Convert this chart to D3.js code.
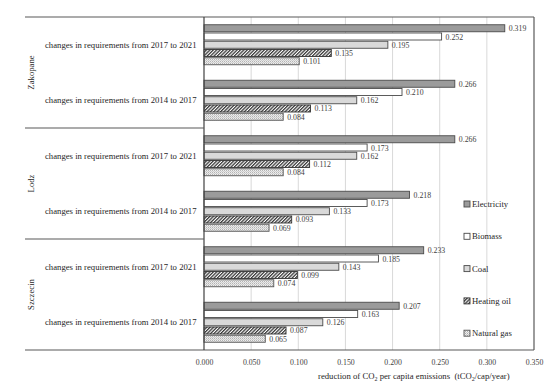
<!DOCTYPE html>
<html><head><meta charset="utf-8">
<script src="https://cdn.jsdelivr.net/npm/d3@7"></script>
<style>
html,body{margin:0;padding:0;background:#fff;}
svg text{font-family:"Liberation Serif","Times New Roman",serif;}
</style></head>
<body><svg id="c" width="550" height="389"></svg>
<script>
const cities = ["Zakopane", "Lodz", "Szczecin"];
const periods = ["changes in requirements from 2017 to 2021", "changes in requirements from 2014 to 2017"];
const fuels = ["Electricity", "Biomass", "Coal", "Heating oil", "Natural gas"];
// values[city][period][fuel]
const zakopane = [[0.319, 0.252, 0.195, 0.135, 0.101], [0.266, 0.210, 0.162, 0.113, 0.084]];
const lodz     = [[0.266, 0.173, 0.162, 0.112, 0.084], [0.218, 0.173, 0.133, 0.093, 0.069]];
const szczecin = [[0.233, 0.185, 0.143, 0.099, 0.074], [0.207, 0.163, 0.126, 0.087, 0.065]];
const cityValues = [zakopane, lodz, szczecin];
const xTicks = [0, 0.05, 0.10, 0.15, 0.20, 0.25, 0.30, 0.35];

const svg = d3.select("#c");
const pLeft = 204, pRight = 534, pTop = 17, pBottom = 350, outerLeft = 25;

const defs = svg.append("defs");
const hatch = defs.append("pattern").attr("id","hatch").attr("patternUnits","userSpaceOnUse")
  .attr("width",2.4).attr("height",2.4).attr("patternTransform","rotate(45)");
hatch.append("rect").attr("width",2.4).attr("height",2.4).attr("fill","#fff");
hatch.append("rect").attr("width",1.3).attr("height",2.4).attr("fill","#3a3a3a");
const dots = defs.append("pattern").attr("id","dots").attr("patternUnits","userSpaceOnUse")
  .attr("width",2).attr("height",2);
dots.append("rect").attr("width",2).attr("height",2).attr("fill","#fff");
dots.append("rect").attr("width",1).attr("height",1).attr("fill","#999");
dots.append("rect").attr("x",1).attr("y",1).attr("width",1).attr("height",1).attr("fill","#bbb");

const fills = {"Electricity":"#9b9b9b","Biomass":"#ffffff","Coal":"#d9d9d9","Heating oil":"url(#hatch)","Natural gas":"url(#dots)"};
const strokes = {"Electricity":"#4a4a4a","Biomass":"#4a4a4a","Coal":"#4a4a4a","Heating oil":"#333","Natural gas":"#555"};

const rows = [];
cities.forEach((c, ci) => periods.forEach((p, pi) => rows.push({key: c + "|" + pi, city: c, period: p, vals: cityValues[ci][pi]})));

const x = d3.scaleLinear().domain([0, 0.35]).range([pLeft, pRight]);
const y = d3.scaleBand().domain(rows.map(r => r.key)).range([pTop, pBottom]);
const yCity = d3.scaleBand().domain(cities).range([pTop, pBottom]);
const yFuel = d3.scaleBand().domain(fuels).range([0, 40]).paddingInner(0.15);

// gridlines
svg.append("g").selectAll("line").data(xTicks.slice(1, -1)).join("line")
  .attr("x1", d => x(d)).attr("x2", d => x(d)).attr("y1", pTop).attr("y2", pBottom)
  .attr("stroke", "#d9d9d9").attr("stroke-width", 1);

// bars
const g = svg.append("g").selectAll("g").data(rows).join("g")
  .attr("transform", d => `translate(0,${y(d.key) + y.bandwidth()/2 - 20})`);
g.selectAll("rect").data(d => d.vals.map((v, i) => ({v, f: fuels[i]}))).join("rect")
  .attr("x", x(0)).attr("y", d => yFuel(d.f))
  .attr("width", d => x(d.v) - x(0)).attr("height", yFuel.bandwidth())
  .attr("fill", d => fills[d.f]).attr("stroke", d => strokes[d.f]).attr("stroke-width", 0.9);
g.selectAll("text").data(d => d.vals.map((v, i) => ({v, f: fuels[i]}))).join("text")
  .attr("x", d => x(d.v) + 4).attr("y", d => yFuel(d.f) + yFuel.bandwidth()/2 + 3)
  .attr("font-size", 7.8).attr("fill", "#404040").text(d => d3.format(".3f")(d.v));

// frame
const line = (x1, y1, x2, y2, c, w) => svg.append("line").attr("x1",x1).attr("y1",y1).attr("x2",x2).attr("y2",y2).attr("stroke",c).attr("stroke-width",w);
line(outerLeft, pTop, pRight, pTop, "#595959", 1.2);
line(outerLeft, pBottom, pRight, pBottom, "#595959", 1.2);
line(pRight, pTop, pRight, pBottom, "#595959", 1.2);
line(pLeft, pTop, pLeft, pBottom, "#404040", 1.2);
cities.slice(1).forEach(c => line(outerLeft, yCity(c), pLeft, yCity(c), "#595959", 1.2));

// category labels
svg.append("g").selectAll("text").data(rows).join("text")
  .attr("x", 45).attr("y", d => y(d.key) + y.bandwidth()/2 + 3)
  .attr("font-size", 8.7).attr("fill", "#262626").text(d => d.period);
svg.append("g").selectAll("text").data(cities).join("text")
  .attr("transform", d => `translate(34,${yCity(d) + yCity.bandwidth()/2}) rotate(-90)`)
  .attr("text-anchor", "middle").attr("font-size", 8.7).attr("fill", "#262626").text(d => d);

// x axis
const ax = svg.append("g").attr("transform", `translate(0,${pBottom})`)
  .call(d3.axisBottom(x).tickValues(xTicks).tickFormat(d3.format(".3f")).tickSize(0).tickPadding(9));
ax.select(".domain").remove();
ax.selectAll("text").attr("font-size", 7.8).attr("fill", "#404040").attr("font-family", "Liberation Serif, serif");

const title = svg.append("text").attr("x", 318).attr("y", 379).attr("font-size", 8.7).attr("fill", "#262626")
  .attr("xml:space", "preserve").style("white-space", "pre");
title.append("tspan").text("reduction of CO");
title.append("tspan").attr("font-size", 6).attr("dy", 2).text("2");
title.append("tspan").attr("dy", -2).text(" per capita emissions  (tCO");
title.append("tspan").attr("font-size", 6).attr("dy", 2).text("2");
title.append("tspan").attr("dy", -2).text("/cap/year)");

// legend
const leg = svg.append("g").selectAll("g").data(fuels).join("g")
  .attr("transform", (d, i) => `translate(467,${204 + i * 32.3})`);
leg.append("rect").attr("x", -3).attr("y", -3).attr("width", 6).attr("height", 6)
  .attr("fill", d => fills[d]).attr("stroke", d => strokes[d]).attr("stroke-width", 0.9);
leg.append("text").attr("x", 5).attr("y", 3).attr("font-size", 8.7).attr("fill", "#262626").text(d => d);
</script></body></html>
